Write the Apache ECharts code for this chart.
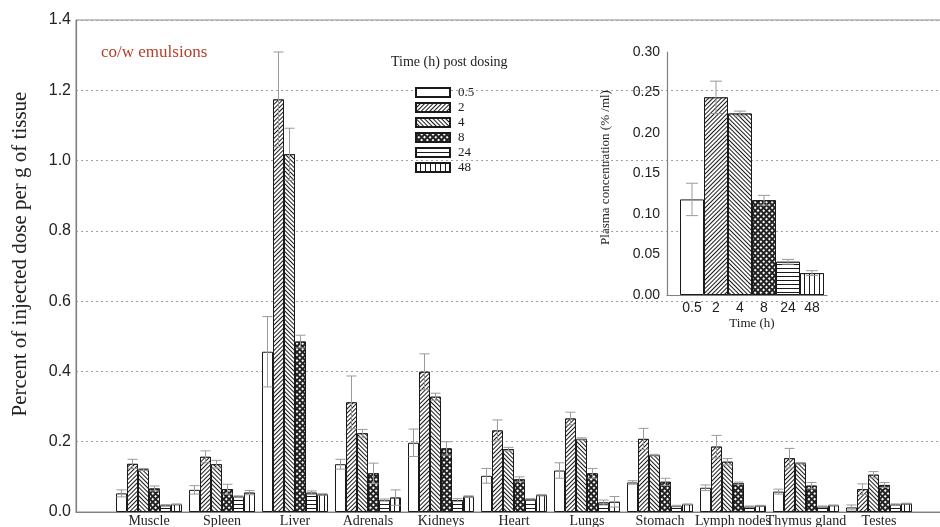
<!DOCTYPE html>
<html>
<head>
<meta charset="utf-8">
<script src="https://cdn.jsdelivr.net/npm/echarts@6/dist/echarts.min.js"></script>
<style>html,body{margin:0;padding:0;background:#fff}#c{width:940px;height:527px}</style>
</head>
<body>
<div id="c"></div>
<script>
// ---------- data ----------
const organs = ['Muscle', 'Spleen', 'Liver', 'Adrenals', 'Kidneys', 'Heart', 'Lungs', 'Stomach', 'Lymph nodes', 'Thymus gland', 'Testes'];
const timeLabels = ['0.5', '2', '4', '8', '24', '48'];

const t05 = [0.053, 0.063, 0.456, 0.136, 0.197, 0.103, 0.118, 0.084, 0.069, 0.058, 0.013];
const e05 = [0.010, 0.012, 0.100, 0.014, 0.039, 0.021, 0.022, 0.005, 0.008, 0.007, 0.007];
const t2  = [0.137, 0.157, 1.174, 0.312, 0.399, 0.232, 0.266, 0.208, 0.186, 0.153, 0.065];
const e2  = [0.013, 0.017, 0.135, 0.075, 0.051, 0.030, 0.018, 0.030, 0.032, 0.028, 0.015];
const t4  = [0.121, 0.136, 1.018, 0.224, 0.328, 0.179, 0.208, 0.162, 0.143, 0.139, 0.106];
const e4  = [0.003, 0.011, 0.074, 0.011, 0.010, 0.005, 0.003, 0.002, 0.009, 0.002, 0.009];
const t8  = [0.067, 0.065, 0.485, 0.110, 0.181, 0.093, 0.110, 0.086, 0.082, 0.075, 0.077];
const e8  = [0.007, 0.014, 0.018, 0.029, 0.019, 0.007, 0.014, 0.010, 0.003, 0.009, 0.007];
const t24 = [0.019, 0.044, 0.055, 0.034, 0.034, 0.036, 0.027, 0.017, 0.015, 0.015, 0.021];
const e24 = [0.002, 0.002, 0.005, 0.003, 0.004, 0.002, 0.007, 0.002, 0.002, 0.002, 0.002];
const t48 = [0.022, 0.055, 0.050, 0.041, 0.044, 0.048, 0.029, 0.022, 0.018, 0.019, 0.024];
const e48 = [0.001, 0.006, 0.002, 0.022, 0.002, 0.002, 0.015, 0.001, 0.001, 0.001, 0.001];

const plasmaTimes = ['0.5', '2', '4', '8', '24', '48'];
const plasma    = [0.118, 0.244, 0.224, 0.117, 0.041, 0.027];
const plasmaErr = [0.020, 0.020, 0.003, 0.006, 0.003, 0.003];

const mainTickLabels  = ['0.0', '0.2', '0.4', '0.6', '0.8', '1.0', '1.2', '1.4'];
const insetTickLabels = ['0.00', '0.05', '0.10', '0.15', '0.20', '0.25', '0.30'];

// ---------- styling ----------
const means = [t05, t2, t4, t8, t24, t48];
const errs  = [e05, e2, e4, e8, e24, e48];
const SERIF = "'Liberation Serif', 'Times New Roman', serif";
const SANS  = "'Liberation Sans', Arial, sans-serif";
const BAR_W = 11;
const INK = '#1a1a1a';

function decalFor(k) {
  switch (k) {
    case 1: return {symbol: 'rect', symbolSize: 1, dashArrayX: [1, 0], dashArrayY: [1, 2], rotation: -Math.PI / 4, color: INK, backgroundColor: '#fff'};
    case 2: return {symbol: 'rect', symbolSize: 1, dashArrayX: [1, 0], dashArrayY: [1, 2], rotation: Math.PI / 4, color: INK, backgroundColor: '#fff'};
    case 3: return {symbol: 'rect', symbolSize: 1, dashArrayX: [2, 2], dashArrayY: [2, 2], rotation: Math.PI / 4, color: '#fff', backgroundColor: '#222'};
    case 4: return {symbol: 'rect', symbolSize: 1, dashArrayX: [1, 0], dashArrayY: [1, 3], rotation: 0, color: INK, backgroundColor: '#fff'};
    case 5: return {symbol: 'rect', symbolSize: 1, dashArrayX: [1, 0], dashArrayY: [1, 4], rotation: Math.PI / 2, color: INK, backgroundColor: '#fff'};
    default: return null;
  }
}
function itemStyleFor(k) {
  const st = {color: '#fff', borderColor: INK, borderWidth: 1};
  const d = decalFor(k);
  if (d) st.decal = d;
  return st;
}

const axisCats = [''].concat(organs, ['']);

const barSeries = means.map((arr, k) => ({
  name: timeLabels[k],
  type: 'bar',
  xAxisIndex: 0, yAxisIndex: 0,
  barWidth: BAR_W,
  barGap: '0%',
  itemStyle: itemStyleFor(k),
  emphasis: {disabled: true},
  data: ['-'].concat(arr, ['-'])
}));

const errData = [];
means.forEach((arr, k) => arr.forEach((v, i) => errData.push([i + 1, v, errs[k][i], k])));

function errRender(halfCap, offsetFn) {
  return function (params, api) {
    const ci = api.value(0), v = api.value(1), e = api.value(2), k = api.value(3);
    const c = api.coord([ci, v]);
    const x = c[0] + offsetFn(k);
    const top = api.coord([ci, v + e])[1];
    const bot = api.coord([ci, v - e])[1];
    const style = {stroke: '#9a9a9a', lineWidth: 1};
    return {type: 'group', children: [
      {type: 'line', shape: {x1: x, y1: top, x2: x, y2: bot}, style: style},
      {type: 'line', shape: {x1: x - halfCap, y1: top, x2: x + halfCap, y2: top}, style: style},
      {type: 'line', shape: {x1: x - halfCap, y1: bot, x2: x + halfCap, y2: bot}, style: style}
    ]};
  };
}

const plasmaErrData = plasma.map((v, i) => [i, v, plasmaErr[i], i]);

const option = {
  animation: false,
  backgroundColor: '#fff',
  textStyle: {fontFamily: SANS},
  title: [
    {text: 'co/w emulsions', left: 101, top: 44, padding: 0,
     textStyle: {fontFamily: SERIF, fontSize: 17, fontWeight: 'normal', color: '#b5402a'}},
    {text: 'Time (h) post dosing', left: 391, top: 55, padding: 0,
     textStyle: {fontFamily: SERIF, fontSize: 14, fontWeight: 'normal', color: '#222'}}
  ],
  legend: {
    data: timeLabels,
    orient: 'vertical',
    left: 415, top: 86,
    padding: 0,
    itemWidth: 34, itemHeight: 9, itemGap: 2,
    icon: 'rect',
    selectedMode: false,
    textStyle: {fontFamily: SERIF, fontSize: 13, color: '#222', padding: [0, 0, 0, 3]}
  },
  grid: [
    {left: 76, top: 20, width: 876, height: 492, outerBoundsMode: 'none', show: true, borderColor: '#888', borderWidth: 1, backgroundColor: 'transparent'},
    {left: 667, top: 52, width: 160, height: 243, outerBoundsMode: 'none'},
    {left: 680, top: 52, width: 144, height: 243, outerBoundsMode: 'none'}
  ],
  xAxis: [
    {type: 'category', gridIndex: 0, data: axisCats, boundaryGap: false,
     axisLine: {lineStyle: {color: '#808080', width: 1.2}},
     axisTick: {show: false},
     axisLabel: {interval: 0, margin: 2, fontFamily: SERIF, fontSize: 14, color: '#222'},
     splitLine: {show: false}},
    {type: 'value', gridIndex: 1, min: 0, max: 1,
     axisLine: {show: true, onZero: false, lineStyle: {color: '#808080', width: 1.2}},
     axisTick: {show: false}, axisLabel: {show: false}, splitLine: {show: false}},
    {type: 'category', gridIndex: 2, data: plasmaTimes,
     axisLine: {show: false}, axisTick: {show: false},
     axisLabel: {interval: 0, margin: 6, fontFamily: SANS, fontSize: 14, color: '#222'},
     name: 'Time (h)', nameLocation: 'middle', nameGap: 22,
     nameTextStyle: {fontFamily: SERIF, fontSize: 13, color: '#222'}}
  ],
  yAxis: [
    {type: 'value', gridIndex: 0, min: 0, max: 1.4, interval: 0.2,
     axisLine: {show: true, lineStyle: {color: '#808080', width: 1.2}},
     axisTick: {show: false},
     axisLabel: {margin: 5, fontFamily: SANS, fontSize: 16, color: '#222',
                 formatter: (v, i) => mainTickLabels[i]},
     splitLine: {show: true, lineStyle: {type: [2, 3], color: '#a0a0a0', width: 1}},
     name: 'Percent of injected dose per g of tissue', nameLocation: 'middle', nameGap: 45,
     nameTextStyle: {fontFamily: SERIF, fontSize: 21, color: '#222', padding: [0, 0, 0, 24]}},
    {type: 'value', gridIndex: 1, min: 0, max: 0.3, interval: 0.05,
     axisLine: {show: true, lineStyle: {color: '#808080', width: 1.2}},
     axisTick: {show: false},
     axisLabel: {margin: 7, fontFamily: SANS, fontSize: 14, color: '#222',
                 formatter: (v, i) => insetTickLabels[i]},
     splitLine: {show: false},
     name: 'Plasma concentration (% /ml)', nameLocation: 'middle', nameGap: 55,
     nameTextStyle: {fontFamily: SERIF, fontSize: 13, color: '#222', padding: [0, 0, 0, 12]}},
    {type: 'value', gridIndex: 2, min: 0, max: 0.3, show: false}
  ],
  series: barSeries.concat([
    {type: 'custom', name: 'err', xAxisIndex: 0, yAxisIndex: 0, z: 5,
     renderItem: errRender(5, k => (k - 2.5) * BAR_W),
     encode: {x: 0, y: 1}, data: errData, silent: true},
    {type: 'bar', name: 'Plasma', xAxisIndex: 2, yAxisIndex: 2, barCategoryGap: '0%',
     emphasis: {disabled: true},
     data: plasma.map((v, i) => ({value: v, itemStyle: itemStyleFor(i)}))},
    {type: 'custom', name: 'perr', xAxisIndex: 2, yAxisIndex: 2, z: 5,
     renderItem: errRender(6, k => 0),
     encode: {x: 0, y: 1}, data: plasmaErrData, silent: true}
  ])
};

const chart = echarts.init(document.getElementById('c'), null, {renderer: 'canvas'});
chart.setOption(option);
</script>
</body>
</html>
